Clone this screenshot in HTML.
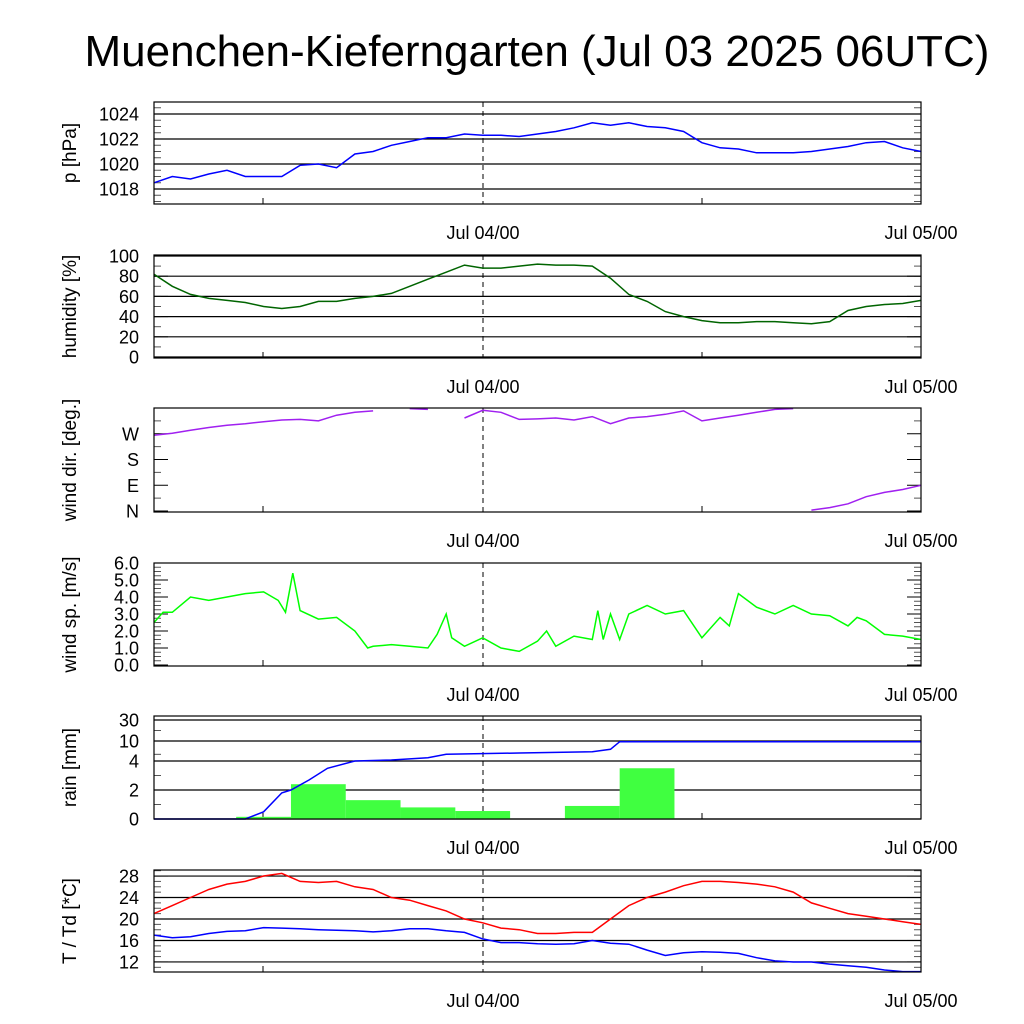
<!DOCTYPE html>
<html><head><meta charset="utf-8"><style>
html,body{margin:0;padding:0;background:#fff;}
svg{display:block;font-family:"Liberation Sans",sans-serif;}
</style></head><body>
<svg id="c" width="1024" height="1024" viewBox="0 0 1024 1024" xmlns="http://www.w3.org/2000/svg">
<text x="537" y="66" font-size="44" text-anchor="middle">Muenchen-Kieferngarten (Jul 03 2025 06UTC)</text>
</svg>
<script>
// data: hours since Jul 03 06UTC
const hours = [0,1,2,3,4,5,6,7,8,9,10,11,12,13,14,15,16,17,18,19,20,21,22,23,24,25,26,27,28,29,30,31,32,33,34,35,36,37,38,39,40,41,42];
const pressure = [1018.5,1019,1018.8,1019.2,1019.5,1019,1019,1019,1019.9,1020,1019.7,1020.8,1021,1021.5,1021.8,1022.1,1022.1,1022.4,1022.3,1022.3,1022.2,1022.4,1022.6,1022.9,1023.3,1023.1,1023.3,1023.0,1022.9,1022.6,1021.7,1021.3,1021.2,1020.9,1020.9,1020.9,1021.0,1021.2,1021.4,1021.7,1021.8,1021.3,1021.0];
const humidity = [82,70,62,58,56,54,50,48,50,55,55,58,60,63,70,77,84,91,88,88,90,92,91,91,90,78,62,55,45,40,36,34,34,35,35,34,33,35,46,50,52,53,56];
const windDir = [265,272,282,292,300,305,312,318,320,315,335,345,350,362,358,355,363,325,352,345,320,322,325,318,330,305,325,330,338,350,315,325,335,345,355,358,363,372,385,410,425,435,450];
const windSpHours = [0,0.5,1,2,3,4,5,6,6.8,7.2,7.6,8,9,10,11,11.7,12,13,14,15,15.5,16,16.3,17,18,19,20,21,21.5,22,23,24,24.3,24.6,25,25.5,26,27,28,29,30,31,31.5,32,33,34,35,36,37,38,38.5,39,40,41,42];
const windSp = [2.5,3.1,3.1,4.0,3.8,4.0,4.2,4.3,3.8,3.1,5.4,3.2,2.7,2.8,2.0,1.0,1.1,1.2,1.1,1.0,1.8,3.0,1.6,1.1,1.6,1.0,0.8,1.4,2.0,1.1,1.7,1.5,3.2,1.5,3.0,1.5,3.0,3.5,3.0,3.2,1.6,2.8,2.3,4.2,3.4,3.0,3.5,3.0,2.9,2.3,2.8,2.6,1.8,1.7,1.5];
const rainBinStart = [4.5,7.5,10.5,13.5,16.5,22.5,25.5];
const rainBinAmount = [0.15,2.4,1.3,0.8,0.55,0.9,3.5];
const rainSumHours = [0,5,6,7,7.5,8.5,9.5,11,13,15,16,20,24,25,25.5,42];
const rainSum = [0,0,0.5,1.8,2.0,2.7,3.5,4.0,4.3,5.0,6.0,6.4,6.8,7.5,9.8,9.8];
const temp = [21,22.5,24,25.5,26.5,27,28,28.5,27,26.8,27,26,25.5,24,23.5,22.5,21.5,20,19.3,18.3,18,17.3,17.3,17.5,17.5,20,22.5,24,25,26.2,27,27,26.8,26.5,26,25,23,22,21,20.5,20,19.5,19];
const dew = [17,16.5,16.7,17.3,17.7,17.8,18.4,18.3,18.2,18,17.9,17.8,17.6,17.8,18.2,18.2,17.8,17.5,16.3,15.6,15.6,15.4,15.3,15.4,16.0,15.5,15.3,14.2,13.2,13.7,13.9,13.8,13.6,12.8,12.2,12,12,11.6,11.3,11,10.5,10.2,10.2];

const NS="http://www.w3.org/2000/svg";
const svg=document.getElementById('c');
const X0=154,X1=921,H=42;
const xs=h=>X0+(X1-X0)*h/H;
function el(t,a,p){const e=document.createElementNS(NS,t);for(const k in a)e.setAttribute(k,a[k]);(p||svg).appendChild(e);return e;}

function panel(name,top,bot,ylab,ticks,yfn,grid,minor){
  const g=el('g',{});
  
  
  if(grid){ticks.forEach(t=>{const y=yfn(t.v);const l=el('line',{x1:X0,x2:X1,y1:y,y2:y,stroke:'#000','stroke-width':1.2},g);
    
    });}
  minor.forEach(v=>{const y=yfn(v);el('line',{x1:X0,x2:X0+7,y1:y,y2:y,stroke:'#555','stroke-width':1},g);el('line',{x1:X1-7,x2:X1,y1:y,y2:y,stroke:'#555','stroke-width':1},g);});
  ticks.forEach(t=>{const y=yfn(t.v);
    el('line',{x1:X0,x2:X0+14,y1:y,y2:y,stroke:'#000','stroke-width':1},g);el('line',{x1:X1-14,x2:X1,y1:y,y2:y,stroke:'#000','stroke-width':1},g);
    const tx=el('text',{x:X0-15,y:y+6.5,'font-size':18,'text-anchor':'end'},g);tx.textContent=t.l;
    
    });
  [263,702].forEach(x=>el('line',{x1:x,x2:x,y1:bot-6,y2:bot,stroke:'#000'},g));
  const d=el('line',{x1:483,x2:483,y1:top,y2:bot,stroke:'#000','stroke-dasharray':'5,4'},g);
  
  
  const yt=el('text',{transform:`translate(76,${(top+bot)/2}) rotate(-90)`,'font-size':19,'text-anchor':'middle'},g);
  yt.textContent=ylab;
  
  
  [['Jul 04/00',483],['Jul 05/00',921]].forEach(([s,x])=>{const t=el('text',{x:x,y:bot+35,'font-size':18,'text-anchor':'middle'},g);t.textContent=s;
    
    });
  return g;
}
function border(g,top,bot){el('rect',{x:X0,y:top,width:X1-X0,height:bot-top,fill:'none',stroke:'#000','stroke-width':1.2},g);}
function line(g,hs,vs,yfn,color,name){
  const p=el('polyline',{points:hs.map((h,i)=>xs(h).toFixed(1)+','+yfn(vs[i]).toFixed(1)).join(' '),fill:'none',stroke:color,'stroke-width':1.5},g);
  
  
}
function range(a,b,s){const r=[];for(let v=a;v<=b+1e-9;v+=s)r.push(v);return r;}

// pressure
{const yf=v=>164-(v-1020)*12.5;
 const g=panel('pressure',102,204,'p [hPa]',[1018,1020,1022,1024].map(v=>({v,l:v})),yf,true,range(1017,1024.5,0.5));
 line(g,hours,pressure,yf,'#0000ff','pressure-line');border(g,102,204);}
// humidity
{const yf=v=>357-v*1.01;
 const g=panel('humidity',255,358,'humidity [%]',[0,20,40,60,80,100].map(v=>({v,l:v})),yf,true,range(0,100,10));
 line(g,hours,humidity,yf,'#006400','humidity-line');border(g,255,358);}
// wind direction
{const yf=v=>511-v*(103/360);
 const g=panel('wind-dir',408,512,'wind dir. [deg.]',[{v:0,l:'N'},{v:90,l:'E'},{v:180,l:'S'},{v:270,l:'W'}],yf,false,range(45,360,90));
 let seg=[],segs=[];
 hours.forEach((h,i)=>{const v=windDir[i]%360;if(seg.length&&Math.abs(v-seg[seg.length-1][1])>180){segs.push(seg);seg=[];}seg.push([h,v]);});
 segs.push(seg);
 segs.forEach(s=>line(g,s.map(a=>a[0]),s.map(a=>a[1]),yf,'#a020f0','wind-dir-line'));
 border(g,408,512);}
// wind speed
{const yf=v=>665-v*17;
 const g=panel('wind-speed',563,666,'wind sp. [m/s]',[0,1,2,3,4,5,6].map(v=>({v,l:v.toFixed(1)})),yf,false,range(0,6,0.25));
 line(g,windSpHours,windSp,yf,'#00ff00','wind-speed-line');border(g,563,666);}
// rain
{const tv=[0,2,4,10,30],ty=[819,790,761,741,720];
 const yf=v=>{for(let i=0;i<tv.length-1;i++){if(v<=tv[i+1])return ty[i]+(ty[i+1]-ty[i])*(v-tv[i])/(tv[i+1]-tv[i]);}return ty[4];};
 const g=panel('rain',716,819,'rain [mm]',tv.map(v=>({v,l:v})),yf,true,[1,3,6,20]);
 rainBinStart.forEach((h,i)=>{const y=yf(rainBinAmount[i]);const r=el('rect',{x:xs(h),y:y,width:xs(h+3)-xs(h),height:819-y,fill:'#40ff40'},g);
   
   });
 line(g,rainSumHours,rainSum,yf,'#0000ff','rain-sum-line');border(g,716,819);}
// temperature
{const yf=v=>919-(v-20)*5.37;
 const g=panel('temperature',870,972,'T / Td [*C]',[12,16,20,24,28].map(v=>({v,l:v})),yf,true,range(11,29,1));
 line(g,hours,temp,yf,'#ff0000','temperature-line');line(g,hours,dew,yf,'#0000ff','dewpoint-line');border(g,870,972);}
</script>
</body></html>
